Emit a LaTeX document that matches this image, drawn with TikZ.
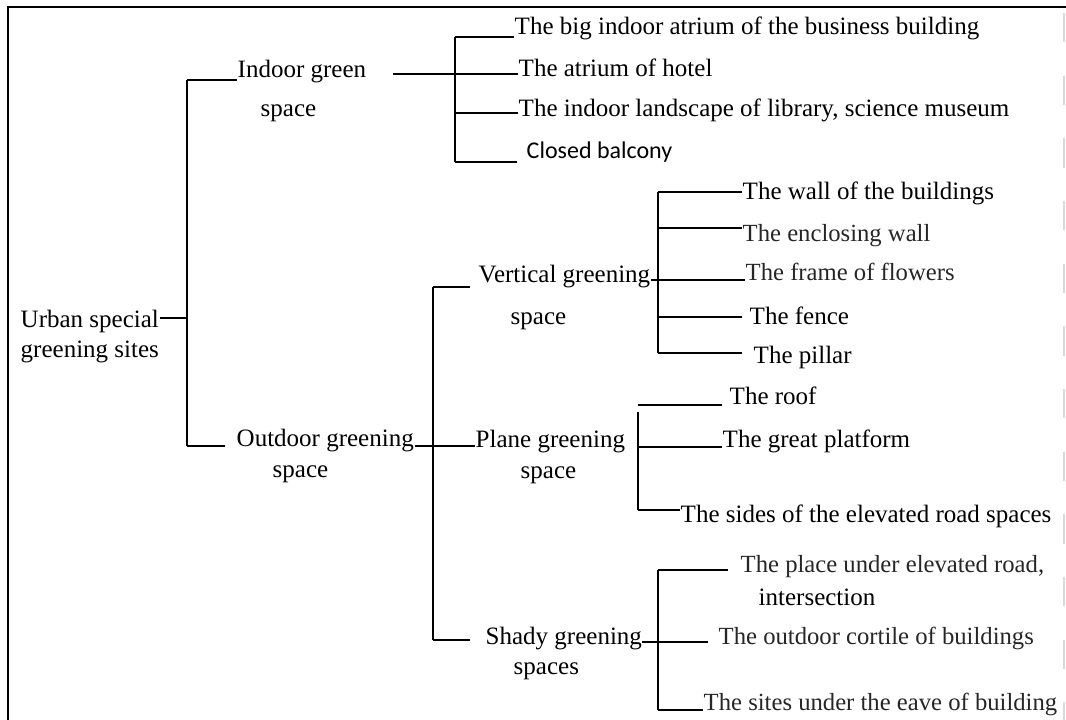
\documentclass[tikz,border=0pt]{standalone}
\usepackage{fontspec}
\setmainfont{Liberation Serif}
\newfontfamily\sansfam{Carlito}
\begin{document}
\begin{tikzpicture}[x=0.75pt,y=-0.75pt, line width=1.1pt,
  lbl/.style={anchor=base west, inner sep=0pt, font=\fontsize{18.75}{22}\selectfont\rmfamily},
  lite/.style={anchor=base west, inner sep=0pt, font=\fontsize{18.5}{22}\selectfont\rmfamily, text=black!85},
  sns/.style={anchor=base west, inner sep=0pt, font=\fontsize{18}{22}\selectfont\sansfam}]
\useasboundingbox (0,0) rectangle (1066,720);
% frame
\coordinate (fTL) at (8,7); \coordinate (fTR) at (1066,7); \coordinate (fBL) at (8,720);
\draw[line width=1pt] (fTR) -- (fTL) -- (fBL);
\coordinate (fRt) at (1064,13); \coordinate (fRb) at (1064,720);
\draw[black!15, line width=1pt, dash pattern=on 22pt off 25pt] (fRt) -- (fRb);
% root
\node[lbl] (rootA) at (20,327) {Urban special};
\node[lbl] (rootB) at (20,357) {greening sites};
\coordinate (L1t) at (187,80); \coordinate (L1m) at (187,318); \coordinate (L1b) at (187,446);
\draw (rootA.east |- L1m) -- (L1m);
\draw (L1t) -- (L1b);
% level 1
\node[lbl] (indA) at (237,78) {Indoor green};
\node[lbl] (indB) at (260,117) {space};
\draw (L1t) -- (indA.west |- L1t);
\node[lbl] (outA) at (236,446) {Outdoor greening};
\node[lbl] (outB) at (272,477) {space};
\draw (L1b) -- ([xshift=-8.25pt]outA.west |- L1b);
% indoor bracket
\coordinate (B2t) at (455,37); \coordinate (B2a) at (455,74);
\coordinate (B2c) at (455,113); \coordinate (B2b) at (455,162);
\draw (B2t) -- (B2b);
\node[lbl] (c11) at (514,35) {The big indoor atrium of the business building};
\node[lbl] (c12) at (518,77) {The atrium of hotel};
\node[lbl] (c13) at (518,117) {The indoor landscape of library, science museum};
\node[sns] (c14) at (526,159) {Closed balcony};
\draw (B2t) -- (c11.west |- B2t);
\coordinate (indL) at (393,74);
\draw (indL) -- (c12.west |- indL);
\draw (B2c) -- (c13.west |- B2c);
\draw (B2b) -- ([xshift=-6.75pt]c14.west |- B2b);
% outdoor bracket
\coordinate (B3t) at (433,287); \coordinate (B3b) at (433,640);
\draw (B3t) -- (B3b);
\node[lbl] (verA) at (478,282) {Vertical greening};
\node[lbl] (verB) at (510,324) {space};
\node[lbl] (plaA) at (475,447) {Plane greening};
\node[lbl] (plaB) at (520,478) {space};
\node[lbl] (shaA) at (485,644) {Shady greening};
\node[lbl] (shaB) at (513,674) {spaces};
\draw (B3t) -- ([xshift=-6pt]verA.west |- B3t);
\coordinate (outR) at (415,446);
\draw (outR) -- (plaA.west |- outR);
\draw (B3b) -- ([xshift=-11pt]shaA.west |- B3b);
% vertical greening bracket
\coordinate (B4t) at (658,192); \coordinate (B4a) at (658,228);
\coordinate (B4m) at (658,280); \coordinate (B4d) at (658,317);
\coordinate (B4b) at (658,353);
\draw (B4t) -- (B4b);
\node[lbl] (v1) at (742,200) {The wall of the buildings};
\node[lite] (v2) at (742,242) {The enclosing wall};
\node[lite] (v3) at (745,280) {The frame of flowers};
\node[lbl] (v4) at (749,324) {The fence};
\node[lbl] (v5) at (753,363) {The pillar};
\draw (B4t) -- (v1.west |- B4t);
\draw (B4a) -- (v2.west |- B4a);
\draw (verA.east |- B4m) -- (v3.west |- B4m);
\draw (B4d) -- ([xshift=-5.25pt]v4.west |- B4d);
\draw (B4b) -- ([xshift=-8.25pt]v5.west |- B4b);
% plane greening bracket
\coordinate (B5r) at (638,405); \coordinate (B5t) at (638,412);
\coordinate (B5m) at (638,447); \coordinate (B5b) at (638,510);
\node[lbl] (p1) at (729,404) {The roof};
\node[lbl] (p2) at (722,447) {The great platform};
\node[lbl] (p3) at (680,522) {The sides of the elevated road spaces};
\draw (B5r) -- ([xshift=-5pt]p1.west |- B5r);
\draw (B5t) -- (B5b);
\draw (B5m) -- (p2.west |- B5m);
\draw (B5b) -- (p3.west |- B5b);
% shady greening bracket
\coordinate (B6t) at (658,570); \coordinate (B6b) at (658,710);
\node[lite] (s1) at (740,572) {The place under elevated road,};
\node[lbl] (s1b) at (758,605) {intersection};
\node[lite] (s2) at (718,644) {The outdoor cortile of buildings};
\node[lite] (s3) at (703,710) {The sites under the eave of building};
\draw (B6t) -- (B6b);
\draw (B6t) -- ([xshift=-9pt]s1.west |- B6t);
\coordinate (shaR) at (642,642);
\draw (shaR) -- ([xshift=-7.5pt]s2.west |- shaR);
\draw (B6b) -- (s3.west |- B6b);
\end{tikzpicture}
\end{document}
